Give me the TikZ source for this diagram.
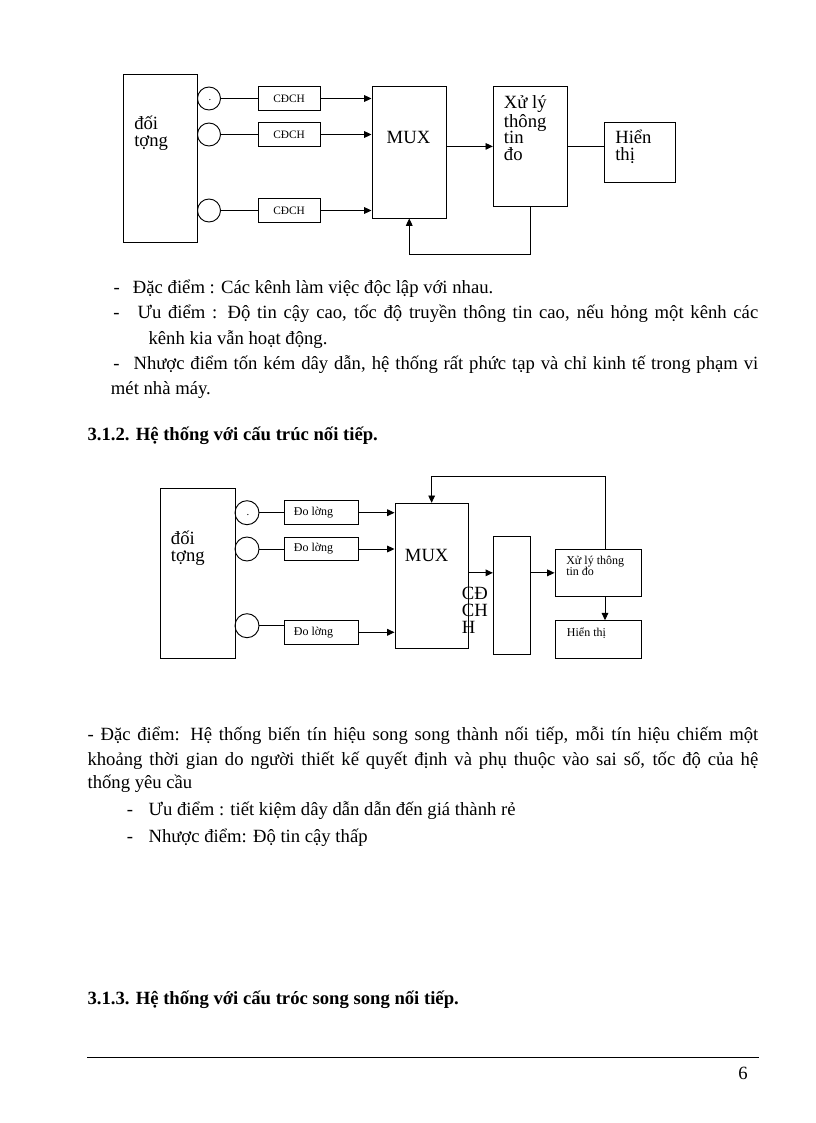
\documentclass[tikz,border=0pt]{standalone}
\usepackage{fontspec}
\setmainfont{Liberation Serif}
\usetikzlibrary{arrows.meta, positioning}

\begin{document}
\begin{tikzpicture}[
		x=0.75pt, y=-0.75pt,
		blk/.style={draw, line width=0.7pt, inner sep=0pt},
		circ/.style={draw, circle, line width=0.7pt, inner sep=0pt},
		dotmark/.style={inner sep=0pt, font=\fontsize{8}{8}\selectfont},
		arr/.style={-{Stealth[length=5.5pt, width=5pt, inset=0pt]}, line width=0.7pt},
		ln/.style={line width=0.7pt},
		body/.style={inner sep=0pt, anchor=base west, font=\fontsize{14}{16}\selectfont},
		head/.style={inner sep=0pt, anchor=base west, font=\fontsize{14}{16}\selectfont\bfseries},
		big/.style={inner sep=0pt, align=left, font=\fontsize{14}{12.5}\selectfont},
		small/.style={inner sep=0pt, align=left, font=\fontsize{9}{8.25}\selectfont}
		]
		\path[fill=white, use as bounding box] (0,0) rectangle (816,1123);
		
		\node[blk, minimum width=55.5pt, minimum height=126.4pt] (obj1) at (160.5,158.25) {};
		\node[big, anchor=west] (obj1txt) at (134,133.3) {đối\\tợng};
		\node[blk, minimum width=55.9pt, minimum height=98.6pt] (mux1) at (409.25,152.25) {};
		\node[big] (mux1txt) at (408.5,137.3) {MUX};
		\node[blk, minimum width=55.8pt, minimum height=90.5pt] (proc1) at (530.5,146.4) {};
		\node[big, anchor=west] (proc1txt) at (503.7,128.3) {Xử lý\\thông\\tin\\đo};
		\node[blk, minimum width=53pt, minimum height=45pt] (disp1) at (639.65,152.3) {};
		\node[big, anchor=west] (disp1txt) at (615,146.7) {Hiển\\thị};
		\foreach \i/\y in {1/98.5, 2/134.5, 3/210.5} {
			\node[circ, minimum size=17.25pt] (s1\i) at (209,\y) {};
			\node[blk, minimum width=46.5pt, minimum height=17.6pt, font=\fontsize{8.5}{8.5}\selectfont] (t1\i) at (289,\y) {CĐCH};
			\draw[ln] (s1\i) -- (t1\i);
			\draw[arr] (t1\i) -- (t1\i -| mux1.west);
		}
		\node[dotmark] (dot1) at (210,100) {.};
		\draw[arr] (mux1.east |- proc1.west) -- (proc1.west);
		\draw[ln] (proc1.east) -- (proc1.east -| disp1.west);
		\draw[arr] (proc1.south) -- ++(0,47.6) -| (mux1.south);
		
		\node[body] (a1d) at (113.3,293.2) {-};
		\node[body] (a1) at (132.7,293.2) {Đặc điểm : Các kênh làm việc độc lập với nhau.};
		\node[body] (a2d) at (113,318.8) {-};
		\node[body] (a2) at (137.3,318.8) {\makebox[465.5pt][s]{Ưu điểm : Độ tin cậy cao, tốc độ truyền thông tin cao, nếu hỏng một kênh các}};
		\node[body] (a3) at (148.3,344.5) {kênh kia vẫn hoạt động.};
		\node[body] (a4d) at (113,369.8) {-};
		\node[body] (a4) at (133.3,369.8) {\makebox[468.5pt][s]{Nhược điểm tốn kém dây dẫn, hệ thống rất phức tạp và chỉ kinh tế trong phạm vi}};
		\node[body] (a5) at (110.7,394.5) {mét nhà máy.};
		\node[head] (h1) at (87.3,440.5) {3.1.2. Hệ thống với cấu trúc nối tiếp.};
		
		\node[blk, minimum width=55.7pt, minimum height=127.5pt] (obj2) at (197.85,573.3) {};
		\node[big, anchor=west] (obj2txt) at (170.7,548) {đối\\tợng};
		\node[blk, minimum width=55pt, minimum height=108.75pt] (mux2) at (431.65,575.8) {};
		\node[big] (mux2txt) at (426.7,555) {MUX};
		\node[blk, minimum width=28pt, minimum height=88.2pt] (mid2) at (512,595.5) {};
		\node[big, anchor=west, font=\fontsize{14}{12.75}\selectfont] (mid2txt) at (461.7,610) {CĐ\\CH\\H};
		\node[blk, minimum width=65pt, minimum height=35.8pt] (proc2) at (598.35,572.85) {};
		\node[small, anchor=west] (proc2txt) at (566,566.2) {Xử lý thông\\tin đo};
		\node[blk, minimum width=65pt, minimum height=28.2pt] (disp2) at (598.35,639.5) {};
		\node[small, anchor=west] (disp2txt) at (566.7,633.3) {Hiển thị};
		\foreach \i/\ys/\yb in {1/512.7/512.7, 2/549/549, 3/625.7/632.3} {
			\node[circ, minimum size=18pt] (s2\i) at (247,\ys) {};
			\node[blk, minimum width=55.7pt, minimum height=17.7pt] (m2\i) at (321.2,\yb) {};
			\node[small, anchor=west, right=7.5pt of m2\i.west] (m2\i txt) {Đo lờng};
			\draw[ln] (s2\i.east) -- (s2\i.east -| m2\i.west);
			\draw[arr] (m2\i) -- (m2\i -| mux2.west);
		}
		\node[dotmark] (dot2) at (248,515) {.};
		\coordinate (fb2) at (605,476.7);
		\draw[arr] (proc2.west -| mux2.east) -- (proc2.west -| mid2.west);
		\draw[arr] (proc2.west -| mid2.east) -- (proc2.west);
		\draw[arr] (fb2 |- proc2.south) -- (fb2 |- disp2.north);
		\draw[arr] (fb2 |- proc2.north) -- (fb2) -| (mux2.north);
		
		\node[body] (b1) at (87.3,740.5) {\makebox[503pt][s]{- Đặc điểm: Hệ thống biến tín hiệu song song thành nối tiếp, mỗi tín hiệu chiếm một}};
		\node[body] (b2) at (87.3,765.5) {\makebox[503pt][s]{khoảng thời gian do người thiết kế quyết định và phụ thuộc vào sai số, tốc độ của hệ}};
		\node[body] (b3) at (87.3,788.8) {thống yêu cầu};
		\node[body] (b4d) at (126.7,815.5) {-};
		\node[body] (b4) at (148.3,815.5) {Ưu điểm : tiết kiệm dây dẫn dẫn đến giá thành rẻ};
		\node[body] (b5d) at (126.7,842.2) {-};
		\node[body] (b5) at (148.3,842.2) {Nhược điểm: Độ tin cậy thấp};
		\node[head] (h2) at (87.3,1004.5) {3.1.3. Hệ thống với cấu tróc song song nối tiếp.};
		
		\draw[line width=0.5pt] (87,1057.3) -- (759.3,1057.3);
		\node[body] (pg) at (738,1079) {6};
	\end{tikzpicture}
\end{document}
